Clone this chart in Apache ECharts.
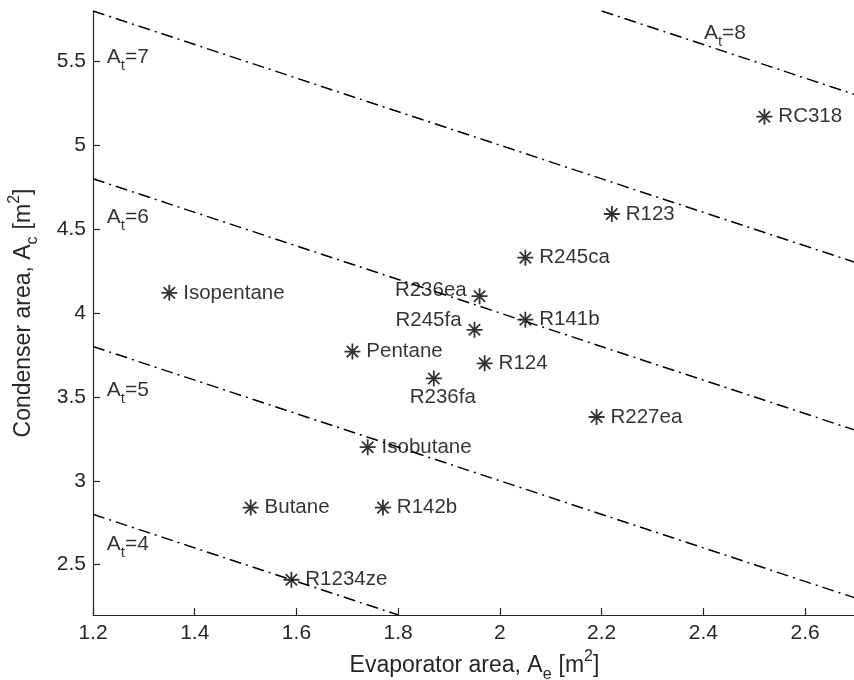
<!DOCTYPE html>
<html>
<head>
<meta charset="utf-8">
<script src="https://cdn.jsdelivr.net/npm/echarts@6/dist/echarts.min.js"></script>
<style>html,body{margin:0;padding:0;background:#fff;}#c{width:854px;height:680px;}</style>
</head>
<body>
<div id="c"></div>
<script>
// ---- data ----
const fluidNames = ['Isopentane','Butane','R1234ze','Pentane','Isobutane','R142b','R236fa','R245fa','R236ea','R124','R141b','R245ca','R227ea','R123','RC318'];
const evapArea  = [1.35, 1.51, 1.59, 1.71, 1.74, 1.77, 1.87, 1.95, 1.96, 1.97, 2.05, 2.05, 2.19, 2.22, 2.52];
const condArea  = [4.12, 2.84, 2.41, 3.77, 3.20, 2.84, 3.61, 3.90, 4.10, 3.70, 3.96, 4.33, 3.38, 4.59, 5.17];

const isoTotal = [4, 5, 6, 7, 8];
const isoFrom  = [[1.2, 2.8], [1.2, 3.8], [1.2, 4.8], [1.2, 5.8], [2.2, 5.8]];
const isoTo    = [[1.8, 2.2], [2.7, 2.3], [2.7, 3.3], [2.7, 4.3], [2.7, 5.3]];
const isoLabelAt = [[1.226, 2.62], [1.226, 3.54], [1.226, 4.573], [1.226, 5.526], [2.40, 5.665]];

const xTicks = [1.2, 1.4, 1.6, 1.8, 2.0, 2.2, 2.4, 2.6];
const yTicks = [2.5, 3, 3.5, 4, 4.5, 5, 5.5];

// ---- label placement (style, not data) ----
const labelPlace = {
  'R236ea': {position: 'left', distance: 4, offset: [0, -6]},
  'R245fa': {position: 'left', distance: 4, offset: [0, -9]},
  'R236fa': {position: 'bottom', distance: 0, offset: [9, 0]}
};

const FONT = '"Liberation Sans", Arial, Helvetica, sans-serif';
const AX = '#262626';
const STAR = 'path://M8,0L8,16M0,8L16,8M2.34,2.34L13.66,13.66M13.66,2.34L2.34,13.66';

const chart = echarts.init(document.getElementById('c'), null, {renderer: 'canvas'});

const series = [];
isoTotal.forEach((t, i) => {
  series.push({
    type: 'line',
    data: [isoFrom[i], isoTo[i]],
    symbol: 'none',
    silent: true,
    lineStyle: {color: '#000', width: 1.5, type: [12, 5, 2, 5]},
    z: 2
  });
});

series.push({
  type: 'scatter',
  data: isoLabelAt.map((p, i) => ({value: p, at: isoTotal[i]})),
  symbolSize: 1,
  itemStyle: {color: 'rgba(0,0,0,0)'},
  silent: true,
  label: {
    show: true,
    position: 'right',
    distance: 0,
    formatter: p => '{a|A}{s|t}{a|=' + p.data.at + '}',
    rich: {
      a: {fontSize: 21, fontFamily: FONT, color: '#000', lineHeight: 32},
      s: {fontSize: 15, fontFamily: FONT, color: '#000', lineHeight: 15, verticalAlign: 'bottom'}
    }
  },
  z: 3
});

series.push({
  type: 'scatter',
  data: evapArea.map((x, i) => {
    const pl = labelPlace[fluidNames[i]];
    const d = {value: [x, condArea[i]], name: fluidNames[i]};
    if (pl) d.label = pl;
    return d;
  }),
  symbol: STAR,
  symbolSize: 16,
  itemStyle: {color: 'rgba(0,0,0,0)', borderColor: '#000', borderWidth: 1.8},
  label: {
    show: true,
    position: 'right',
    distance: 5,
    formatter: p => p.name,
    fontSize: 20.5,
    fontFamily: FONT,
    color: '#000'
  },
  emphasis: {disabled: true},
  z: 4
});

const nameRich = {
  m: {fontSize: 23, fontFamily: FONT, color: AX, lineHeight: 34},
  s: {fontSize: 16, fontFamily: FONT, color: AX, lineHeight: 16, verticalAlign: 'bottom', padding: [0, 7, 0, 0]},
  u: {fontSize: 16, fontFamily: FONT, color: AX, lineHeight: 16, verticalAlign: 'top'}
};

chart.setOption({
  animation: false,
  backgroundColor: '#fff',
  grid: {left: 93, right: -2, top: 11, bottom: 65, outerBoundsMode: 'none', containLabel: false},
  xAxis: {
    type: 'value',
    min: 1.2, max: 2.7,
    name: '{m|Evaporator area, A}{s|e}{m|[m}{u|2}{m|]}',
    nameLocation: 'middle',
    nameGap: 34,
    nameTextStyle: {rich: nameRich},
    axisLine: {show: true, lineStyle: {color: AX, width: 1.2}},
    axisTick: {show: true, inside: true, length: 7, lineStyle: {color: AX, width: 1.2}, customValues: xTicks},
    axisLabel: {color: AX, fontSize: 21, fontFamily: FONT, margin: 8, customValues: xTicks, formatter: v => String(+v.toFixed(1))},
    splitLine: {show: false}
  },
  yAxis: {
    type: 'value',
    min: 2.2, max: 5.8,
    name: '{m|Condenser area, A}{s|c}{m|[m}{u|2}{m|]}',
    nameLocation: 'middle',
    nameGap: 52,
    nameRotate: 90,
    nameTextStyle: {rich: nameRich},
    axisLine: {show: true, lineStyle: {color: AX, width: 1.2}},
    axisTick: {show: true, inside: true, length: 7, lineStyle: {color: AX, width: 1.2}, customValues: yTicks},
    axisLabel: {color: AX, fontSize: 21, fontFamily: FONT, margin: 7, customValues: yTicks, formatter: v => String(+v.toFixed(1))},
    splitLine: {show: false}
  },
  series: series
});
</script>
</body>
</html>
